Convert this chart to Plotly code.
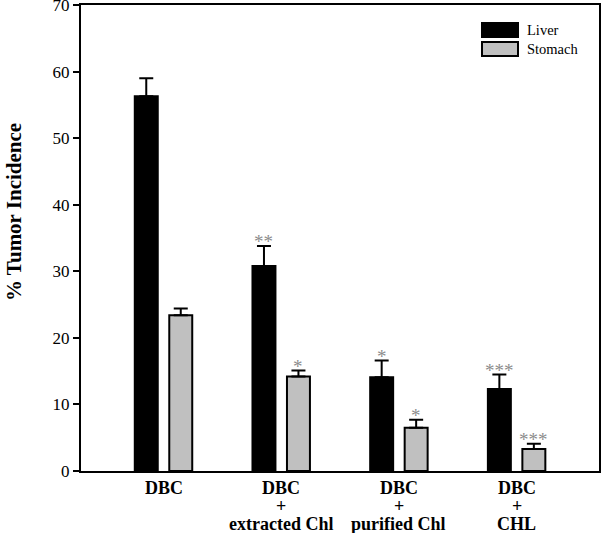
import plotly.graph_objects as go

categories = ["DBC", "DBC<br>+<br>extracted Chl", "DBC<br>+<br>purified Chl", "DBC<br>+<br>CHL"]
liver = [56.3, 30.8, 14.1, 12.3]
liver_err = [2.7, 3.0, 2.5, 2.2]
stomach = [23.4, 14.2, 6.5, 3.3]
stomach_err = [1.0, 0.9, 1.2, 0.8]
liver_sig = ["", "**", "*", "***"]
stomach_sig = ["", "*", "*", "***"]
y_ticks = [0, 10, 20, 30, 40, 50, 60, 70]

SERIF = "Liberation Serif, Times New Roman, serif"

fig = go.Figure()
fig.add_trace(go.Bar(
    x=categories, y=liver, name="Liver",
    marker=dict(color="black", line=dict(color="black", width=2)),
    error_y=dict(type="data", symmetric=False, array=liver_err,
                 arrayminus=[0] * len(liver_err), color="black", thickness=2, width=7),
    showlegend=False,
))
fig.add_trace(go.Bar(
    x=categories, y=stomach, name="Stomach",
    marker=dict(color="#c0c0c0", line=dict(color="black", width=2)),
    error_y=dict(type="data", symmetric=False, array=stomach_err,
                 arrayminus=[0] * len(stomach_err), color="black", thickness=2, width=7),
    showlegend=False,
))

# significance asterisks above error bars
offset = 0.1466
for i, cat in enumerate(categories):
    for vals, errs, sig, sgn in ((liver, liver_err, liver_sig, -1), (stomach, stomach_err, stomach_sig, 1)):
        if sig[i]:
            fig.add_annotation(
                x=i + sgn * offset, xref="x", y=vals[i] + errs[i], yref="y",
                text=sig[i], showarrow=False, yanchor="middle", yshift=4,
                font=dict(family=SERIF, size=19, color="#8c8c8c"),
            )

# category labels, one annotation per line for tight line spacing
for i, cat in enumerate(categories):
    for j, line in enumerate(cat.split("<br>")):
        fig.add_annotation(
            x=i, xref="x", y=-(488 - 471 + j * 18) / 466, yref="paper",
            text="<b>" + line + "</b>", showarrow=False, xanchor="center", yanchor="middle",
            font=dict(family=SERIF, size=18, color="black"),
        )

# legend drawn as swatches + text
legend_items = [("Liver", "black"), ("Stomach", "#c0c0c0")]
for k, (name, col) in enumerate(legend_items):
    y0 = 23 + k * 19
    fig.add_shape(type="rect", xref="paper", yref="paper",
                  x0=(482 - 81) / 518, x1=(518 - 81) / 518,
                  y0=1 - (y0 + 14 - 5) / 466, y1=1 - (y0 - 5) / 466,
                  fillcolor=col, line=dict(color="black", width=2))
    fig.add_annotation(xref="paper", yref="paper",
                       x=(525 - 81) / 518, y=1 - (y0 + 7 - 5) / 466,
                       text=name, showarrow=False, xanchor="left", yanchor="middle",
                       font=dict(family=SERIF, size=14.5, color="black"))

fig.add_annotation(xref="paper", yref="paper", x=-67 / 518, y=1 - (212 - 5) / 466,
                   text="<b>% Tumor Incidence</b>", textangle=-90, showarrow=False,
                   xanchor="center", yanchor="middle",
                   font=dict(family=SERIF, size=21, color="black"))

fig.update_layout(
    width=601, height=533,
    margin=dict(l=81, r=2, t=5, b=62),
    paper_bgcolor="white", plot_bgcolor="white",
    barmode="group", bargap=0.414, bargroupgap=0.334,
    font=dict(family=SERIF, color="black"),
)
fig.update_xaxes(
    range=[-0.701, 3.70], showline=True, linecolor="black", linewidth=2, mirror=True,
    showgrid=False, ticks="", showticklabels=False, automargin=False,
)
fig.update_yaxes(
    range=[0, 70], tickvals=y_ticks, showline=True, linecolor="black", linewidth=2,
    mirror=True, showgrid=False, zeroline=False, ticks="outside", ticklen=6,
    tickwidth=2, tickcolor="black", tickfont=dict(family=SERIF, size=17, color="black"),
    automargin=False, ticklabeloverflow="allow",
)

fig.write_html(
    "out.html",
    config={"displayModeBar": False},
    post_script="document.body.style.margin='0';document.body.style.overflow='hidden';",
)
